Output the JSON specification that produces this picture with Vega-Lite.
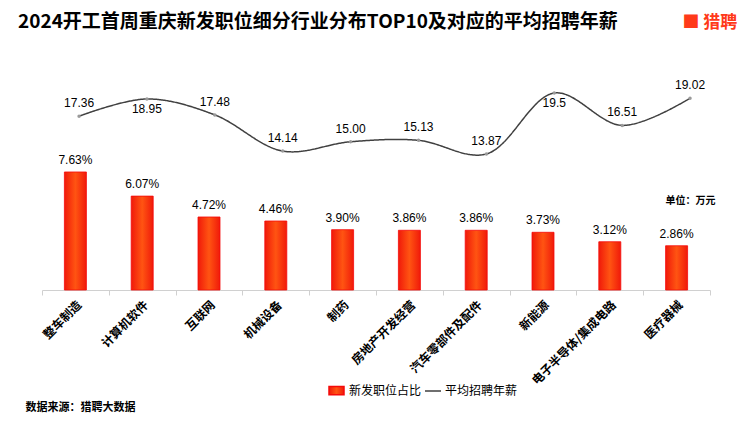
{
  "$schema": "https://vega.github.io/schema/vega-lite/v6.json",
  "width": 668,
  "height": 230,
  "autosize": {"type": "none"},
  "padding": {"left": 42, "top": 60, "right": 40, "bottom": 133},
  "background": "white",
  "config": {"view": {"stroke": null}, "font": "Noto Sans CJK SC"},
  "title": {
    "text": "2024开工首周重庆新发职位细分行业分布TOP10及对应的平均招聘年薪",
    "anchor": "start",
    "frame": "group",
    "dx": -24,
    "dy": 23,
    "fontSize": 19,
    "fontWeight": "bold",
    "color": "#000000",
    "font": "Noto Sans CJK SC"
  },
  "data": {
    "values": [
      {"industry": "整车制造", "share": 0.0763, "salary": 17.36, "salaryText": "17.36"},
      {"industry": "计算机软件", "share": 0.0607, "salary": 18.95, "salaryText": "18.95"},
      {"industry": "互联网", "share": 0.0472, "salary": 17.48, "salaryText": "17.48"},
      {"industry": "机械设备", "share": 0.0446, "salary": 14.14, "salaryText": "14.14"},
      {"industry": "制药", "share": 0.0390, "salary": 15.00, "salaryText": "15.00"},
      {"industry": "房地产开发经营", "share": 0.0386, "salary": 15.13, "salaryText": "15.13"},
      {"industry": "汽车零部件及配件", "share": 0.0386, "salary": 13.87, "salaryText": "13.87"},
      {"industry": "新能源", "share": 0.0373, "salary": 19.5, "salaryText": "19.5"},
      {"industry": "电子半导体/集成电路", "share": 0.0312, "salary": 16.51, "salaryText": "16.51"},
      {"industry": "医疗器械", "share": 0.0286, "salary": 19.02, "salaryText": "19.02"}
    ]
  },
  "resolve": {"scale": {"x": "independent", "y": "independent"}},
  "layer": [
    {
      "encoding": {
        "x": {
          "field": "industry",
          "type": "nominal",
          "sort": null,
          "scale": {"paddingInner": 0, "paddingOuter": 0},
          "axis": {
            "title": "数据来源：猎聘大数据",
            "titleX": -17,
            "titleY": 117,
            "titleAlign": "left",
            "titleAnchor": "start",
            "titleBaseline": "middle",
            "titleFontSize": 11,
            "titleFontWeight": "bold",
            "titleColor": "#000000",
            "labelAngle": -45,
            "labelFontSize": 12,
            "labelFontWeight": "bold",
            "labelColor": "#000000",
            "labelFont": "Noto Sans CJK SC",
            "labelLimit": 250,
            "labelPadding": 4,
            "domainColor": "#d0d0d0",
            "tickColor": "#d0d0d0",
            "tickBand": "extent",
            "tickSize": 5
          }
        },
        "y": {
          "field": "share",
          "type": "quantitative",
          "scale": {"domain": [0, 0.1487]},
          "axis": null
        }
      },
      "layer": [
        {
          "mark": {
            "type": "bar",
            "size": 22,
            "strokeWidth": 0.8,
            "fill": {
              "gradient": "linear",
              "x1": 0, "y1": 0, "x2": 1, "y2": 0,
              "stops": [
                {"offset": 0, "color": "#f01a0a"},
                {"offset": 0.5, "color": "#ff5412"},
                {"offset": 1, "color": "#f01a0a"}
              ]
            }
          },
          "encoding": {
            "stroke": {
              "datum": "新发职位占比",
              "type": "nominal",
              "scale": {"domain": ["新发职位占比"], "range": ["#f50a0a"]},
              "legend": {
                "orient": "none",
                "legendX": 286,
                "legendY": 322,
                "direction": "horizontal",
                "title": null,
                "labelFontSize": 12,
                "labelFont": "Noto Sans CJK SC",
                "labelColor": "#000000",
                "labelOffset": 4,
                "symbolSize": 225,
                "symbolType": "M-1,-0.55H1V0.55H-1Z",
                "symbolFillColor": "#f50a0a"
              }
            }
          }
        },
        {
          "mark": {"type": "text", "baseline": "bottom", "dy": -5, "fontSize": 12, "font": "Liberation Sans", "color": "#000000"},
          "encoding": {"text": {"field": "share", "format": ".2%"}}
        }
      ]
    },
    {
      "encoding": {
        "x": {
          "field": "industry",
          "type": "nominal",
          "sort": null,
          "scale": {"type": "point", "padding": 0.42, "align": 0.65},
          "axis": {
            "orient": "top",
            "title": "■ 猎聘",
            "labels": false,
            "ticks": false,
            "domain": false,
            "titleX": 640,
            "titleY": -38,
            "titleAlign": "left",
            "titleAnchor": "start",
            "titleBaseline": "middle",
            "titleFontSize": 17,
            "titleFontWeight": "bold",
            "titleColor": "#ff3a1a"
          }
        },
        "y": {
          "field": "salary",
          "type": "quantitative",
          "scale": {"domain": [1.31, 22.55]},
          "axis": {
            "orient": "right",
            "title": "单位：万元",
            "labels": false,
            "ticks": false,
            "domain": false,
            "grid": false,
            "titleAngle": 0,
            "titleX": -45,
            "titleY": 140,
            "titleAlign": "left",
            "titleAnchor": "start",
            "titleBaseline": "middle",
            "titleFontSize": 10,
            "titleFontWeight": "bold",
            "titleColor": "#000000"
          }
        }
      },
      "layer": [
        {
          "mark": {"type": "line", "interpolate": "catmull-rom", "strokeWidth": 1.5, "color": "#404040"},
          "encoding": {
            "strokeDash": {
              "datum": "平均招聘年薪",
              "type": "nominal",
              "scale": {"domain": ["平均招聘年薪"], "range": [[1, 0]]},
              "legend": {
                "orient": "none",
                "legendX": 382,
                "legendY": 322,
                "direction": "horizontal",
                "title": null,
                "labelFontSize": 12,
                "labelFont": "Noto Sans CJK SC",
                "labelColor": "#000000",
                "labelOffset": 3,
                "symbolSize": 256,
                "symbolType": "stroke",
                "symbolStrokeColor": "#404040",
                "symbolStrokeWidth": 1.5
              }
            }
          }
        },
        {
          "mark": {"type": "point", "filled": true, "size": 12, "color": "#9a9a9a", "opacity": 1},
          "encoding": {}
        },
        {
          "transform": [{"filter": "datum.industry !== '计算机软件' && datum.industry !== '新能源'"}],
          "mark": {"type": "text", "baseline": "bottom", "dy": -6, "fontSize": 12, "font": "Liberation Sans", "color": "#000000"},
          "encoding": {"text": {"field": "salaryText"}}
        },
        {
          "transform": [{"filter": "datum.industry === '计算机软件' || datum.industry === '新能源'"}],
          "mark": {"type": "text", "baseline": "top", "dy": 5, "fontSize": 12, "font": "Liberation Sans", "color": "#000000"},
          "encoding": {"text": {"field": "salaryText"}}
        }
      ]
    }
  ]
}
